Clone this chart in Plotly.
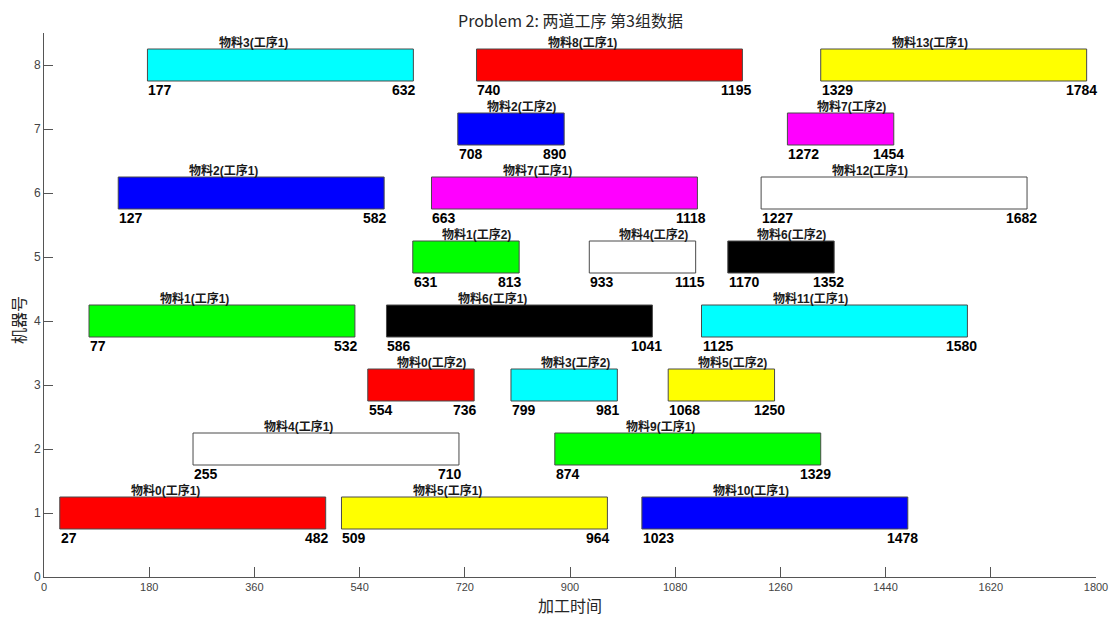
import plotly.graph_objects as go

# data
labels = ["物料0(工序1)", "物料5(工序1)", "物料10(工序1)",
          "物料4(工序1)", "物料9(工序1)",
          "物料0(工序2)", "物料3(工序2)", "物料5(工序2)",
          "物料1(工序1)", "物料6(工序1)", "物料11(工序1)",
          "物料1(工序2)", "物料4(工序2)", "物料6(工序2)",
          "物料2(工序1)", "物料7(工序1)", "物料12(工序1)",
          "物料2(工序2)", "物料7(工序2)",
          "物料3(工序1)", "物料8(工序1)", "物料13(工序1)"]
machines = [1, 1, 1, 2, 2, 3, 3, 3, 4, 4, 4, 5, 5, 5, 6, 6, 6, 7, 7, 8, 8, 8]
starts = [27, 509, 1023, 255, 874, 554, 799, 1068, 77, 586, 1125,
          631, 933, 1170, 127, 663, 1227, 708, 1272, 177, 740, 1329]
ends = [482, 964, 1478, 710, 1329, 736, 981, 1250, 532, 1041, 1580,
        813, 1115, 1352, 582, 1118, 1682, 890, 1454, 632, 1195, 1784]
materials = [0, 5, 10, 4, 9, 0, 3, 5, 1, 6, 11, 1, 4, 6, 2, 7, 12, 2, 7, 3, 8, 13]
mat_colors = ["#ff0000", "#00ff00", "#0000ff", "#00ffff", "#ffffff", "#ffff00", "#000000",
              "#ff00ff", "#ff0000", "#00ff00", "#0000ff", "#00ffff", "#ffffff", "#ffff00"]
x_ticks = [0, 180, 360, 540, 720, 900, 1080, 1260, 1440, 1620, 1800]
y_ticks = [0, 1, 2, 3, 4, 5, 6, 7, 8]
title_text = "Problem 2: 两道工序 第3组数据"
x_title = "加工时间"
y_title = "机器号"

durs = [e - s for s, e in zip(starts, ends)]
colors = [mat_colors[m] for m in materials]

fig = go.Figure()
fig.add_trace(go.Bar(
    orientation="h", base=starts, x=durs, y=machines, width=0.5,
    marker=dict(color=colors, line=dict(color="#4a4a4a", width=1)),
    hoverinfo="skip", showlegend=False,
))

ann = []
for lab, m, s, e, d in zip(labels, machines, starts, ends, durs):
    ann.append(dict(x=s + 0.26 * d, y=m + 0.25, xref="x", yref="y", text=lab,
                    showarrow=False, xanchor="left", yanchor="bottom", yshift=-3,
                    font=dict(family="Liberation Sans, Noto Sans CJK SC", size=12,
                              color="#1a1a1a", weight=600)))
    ann.append(dict(x=s, y=m - 0.25, xref="x", yref="y", text="<b>%d</b>" % s,
                    showarrow=False, xanchor="left", yanchor="top", yshift=1, xshift=-1,
                    font=dict(family="Liberation Sans", size=14, color="#000000")))
    ann.append(dict(x=e, y=m - 0.25, xref="x", yref="y", text="<b>%d</b>" % e,
                    showarrow=False, xanchor="left", yanchor="top", yshift=1, xshift=-23,
                    font=dict(family="Liberation Sans", size=14, color="#000000")))

ann.append(dict(x=0.5, y=1, xref="paper", yref="paper", text=title_text, showarrow=False,
                xanchor="center", yanchor="middle", yshift=13,
                font=dict(family="Noto Sans CJK SC", size=16, color="#262626")))
ann.append(dict(x=0.5, y=0, xref="paper", yref="paper", text=x_title, showarrow=False,
                xanchor="center", yanchor="middle", yshift=-28,
                font=dict(family="Noto Sans CJK SC", size=16, color="#262626")))
ann.append(dict(x=0, y=0.5, xref="paper", yref="paper", text=y_title, showarrow=False,
                xanchor="center", yanchor="middle", xshift=-26, yshift=-15, textangle=-90,
                font=dict(family="Noto Sans CJK SC", size=16, color="#262626")))

fig.update_layout(
    width=1111, height=617,
    margin=dict(l=44, r=15, t=33, b=40),
    paper_bgcolor="white", plot_bgcolor="white",
    barmode="overlay",
    annotations=ann,
    xaxis=dict(range=[0, 1800], tickvals=x_ticks, ticks="inside", ticklen=10, tickcolor="#555555",
               showline=True, linecolor="#555555", linewidth=1, showgrid=False, zeroline=False,
               automargin=False,
               tickfont=dict(family="Liberation Sans", size=11, color="#444444")),
    yaxis=dict(range=[0, 8.5], tickvals=y_ticks, ticks="inside", ticklen=9, tickcolor="#555555",
               showline=True, linecolor="#555555", linewidth=1, showgrid=False, zeroline=False,
               automargin=False,
               tickfont=dict(family="Liberation Sans", size=12, color="#444444")),
)

fig.write_html("out.html", config={"displayModeBar": False},
               post_script="document.body.style.margin='0';document.body.style.overflow='hidden';")
